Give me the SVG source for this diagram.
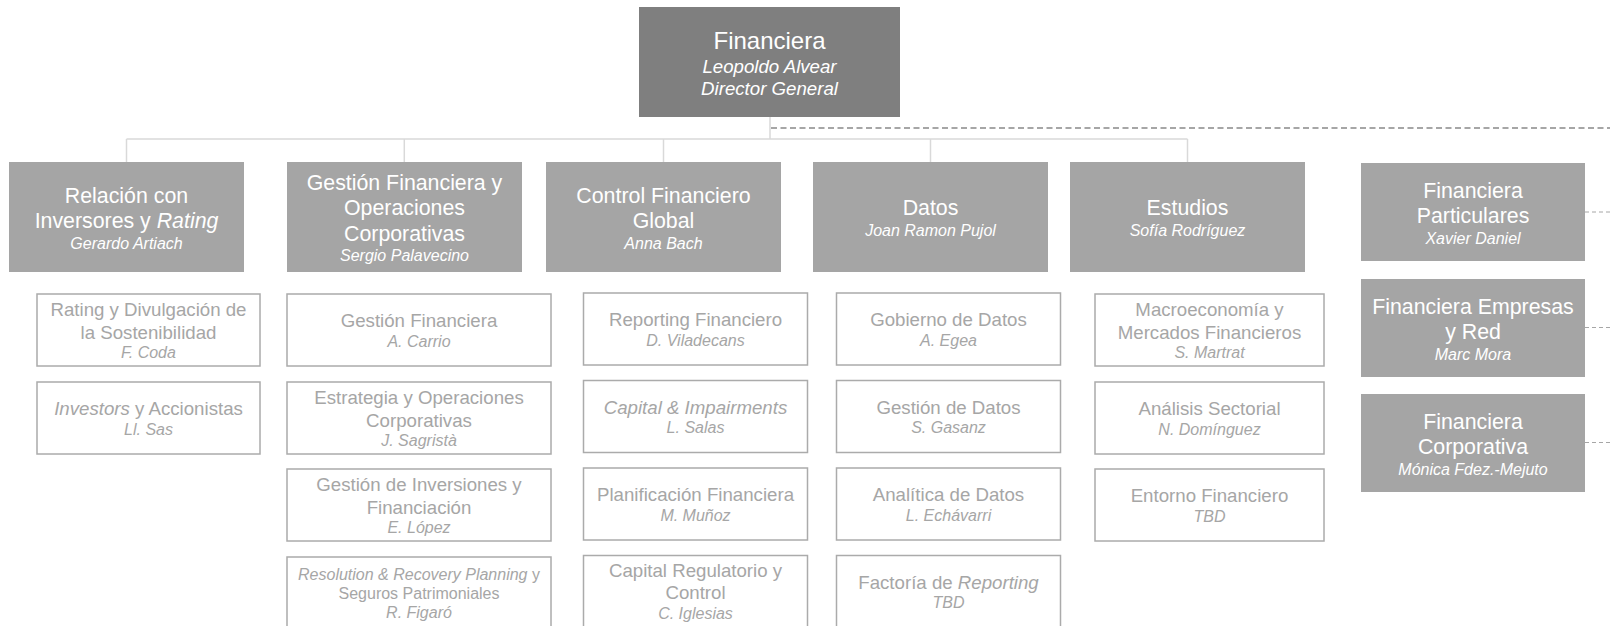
<svg xmlns="http://www.w3.org/2000/svg" width="1610" height="626" viewBox="0 0 1610 626">
<style>
text{font-family:"Liberation Sans",Arial,sans-serif;text-anchor:middle}
.top{fill:#7f7f7f}
.l2{fill:#a5a5a5}
.sub{fill:#ffffff;stroke:#ababab;stroke-width:1.5}
.w{fill:#ffffff}
.g{fill:#a6a6a6}
.t24{font-size:24px}
.t21{font-size:21.33px}
.t18{font-size:18.67px}
.t16{font-size:16px}
.i{font-style:italic}
.conn{stroke:#d9d9d9;stroke-width:1.5;fill:none}
.dash{stroke:#a6a6a6;stroke-width:2;stroke-dasharray:6 3.5;fill:none}
.dash2{stroke:#a6a6a6;stroke-width:1;stroke-dasharray:4 3;fill:none}
</style>
<rect width="1610" height="626" fill="#ffffff"/>
<g id="connectors">
<path class="conn" d="M770 117V139M126.5 139H1187.5M126.5 139V162M404.3 139V162M663.5 139V162M930.5 139V162M1187.5 139V162"/>
<path class="dash" d="M771 128H1610"/>
<path class="dash2" d="M1585 212H1610M1585 327.5H1610M1585 442.5H1610"/>
</g>
<g id="n-financiera">
<rect class="top" x="639" y="7" width="261" height="110"/>
<text class="w t24" x="769.5" y="49">Financiera</text>
<text class="w t18 i" x="769.5" y="72.5">Leopoldo Alvear</text>
<text class="w t18 i" x="769.5" y="95">Director General</text>
</g>
<g id="n-relacion">
<rect class="l2" x="9" y="162" width="235" height="110"/>
<text class="w t21" x="126.5" y="202.5">Relación con</text>
<text class="w t21" x="126.5" y="228">Inversores y <tspan class="i">Rating</tspan></text>
<text class="w t16 i" x="126.5" y="248.5">Gerardo Artiach</text>
</g>
<g id="n-gestion">
<rect class="l2" x="287" y="162" width="235" height="110"/>
<text class="w t21" x="404.5" y="189.5">Gestión Financiera y</text>
<text class="w t21" x="404.5" y="215">Operaciones</text>
<text class="w t21" x="404.5" y="240.5">Corporativas</text>
<text class="w t16 i" x="404.5" y="261">Sergio Palavecino</text>
</g>
<g id="n-control">
<rect class="l2" x="546" y="162" width="235" height="110"/>
<text class="w t21" x="663.5" y="202.5">Control Financiero</text>
<text class="w t21" x="663.5" y="228">Global</text>
<text class="w t16 i" x="663.5" y="248.5">Anna Bach</text>
</g>
<g id="n-datos">
<rect class="l2" x="813" y="162" width="235" height="110"/>
<text class="w t21" x="930.5" y="215">Datos</text>
<text class="w t16 i" x="930.5" y="235.5">Joan Ramon Pujol</text>
</g>
<g id="n-estudios">
<rect class="l2" x="1070" y="162" width="235" height="110"/>
<text class="w t21" x="1187.5" y="215">Estudios</text>
<text class="w t16 i" x="1187.5" y="235.5">Sofía Rodríguez</text>
</g>
<g id="n-particulares">
<rect class="l2" x="1361" y="163" width="224" height="98"/>
<text class="w t21" x="1473" y="197.5">Financiera</text>
<text class="w t21" x="1473" y="223">Particulares</text>
<text class="w t16 i" x="1473" y="243.5">Xavier Daniel</text>
</g>
<g id="n-empresas">
<rect class="l2" x="1361" y="279" width="224" height="98"/>
<text class="w t21" x="1473" y="313.5">Financiera Empresas</text>
<text class="w t21" x="1473" y="339">y Red</text>
<text class="w t16 i" x="1473" y="359.5">Marc Mora</text>
</g>
<g id="n-corporativa">
<rect class="l2" x="1361" y="394" width="224" height="98"/>
<text class="w t21" x="1473" y="428.5">Financiera</text>
<text class="w t21" x="1473" y="454">Corporativa</text>
<text class="w t16 i" x="1473" y="474.5">Mónica Fdez.-Mejuto</text>
</g>
<!-- Column 1 -->
<g id="n-rating">
<rect class="sub" x="37" y="294" width="223" height="72"/>
<text class="g t18" x="148.5" y="316">Rating y Divulgación de</text>
<text class="g t18" x="148.5" y="338.5">la Sostenibilidad</text>
<text class="g t16 i" x="148.5" y="358">F. Coda</text>
</g>
<g id="n-investors">
<rect class="sub" x="37" y="382" width="223" height="72"/>
<text class="g t18" x="148.5" y="415"><tspan class="i">Investors</tspan> y Accionistas</text>
<text class="g t16 i" x="148.5" y="434.5">Ll. Sas</text>
</g>
<!-- Column 2 -->
<g id="n-gestfin">
<rect class="sub" x="287" y="294" width="264" height="72"/>
<text class="g t18" x="419" y="327">Gestión Financiera</text>
<text class="g t16 i" x="419" y="346.5">A. Carrio</text>
</g>
<g id="n-estrategia">
<rect class="sub" x="287" y="382" width="264" height="72"/>
<text class="g t18" x="419" y="404">Estrategia y Operaciones</text>
<text class="g t18" x="419" y="426.5">Corporativas</text>
<text class="g t16 i" x="419" y="446">J. Sagristà</text>
</g>
<g id="n-inversiones">
<rect class="sub" x="287" y="469" width="264" height="72"/>
<text class="g t18" x="419" y="491">Gestión de Inversiones y</text>
<text class="g t18" x="419" y="513.5">Financiación</text>
<text class="g t16 i" x="419" y="533">E. López</text>
</g>
<g id="n-resolution">
<rect class="sub" x="287" y="557" width="264" height="72"/>
<text class="g t16" x="419" y="579.5"><tspan class="i">Resolution &amp; Recovery Planning</tspan> y</text>
<text class="g t16" x="419" y="598.5">Seguros Patrimoniales</text>
<text class="g t16 i" x="419" y="617.5">R. Figaró</text>
</g>
<!-- Column 3 -->
<g id="n-reporting">
<rect class="sub" x="583.5" y="293" width="224" height="72"/>
<text class="g t18" x="695.5" y="326">Reporting Financiero</text>
<text class="g t16 i" x="695.5" y="345.5">D. Viladecans</text>
</g>
<g id="n-capital">
<rect class="sub" x="583.5" y="380.5" width="224" height="72"/>
<text class="g t18 i" x="695.5" y="413.5">Capital &amp; Impairments</text>
<text class="g t16 i" x="695.5" y="433">L. Salas</text>
</g>
<g id="n-planificacion">
<rect class="sub" x="583.5" y="468" width="224" height="72"/>
<text class="g t18" x="695.5" y="501">Planificación Financiera</text>
<text class="g t16 i" x="695.5" y="520.5">M. Muñoz</text>
</g>
<g id="n-capreg">
<rect class="sub" x="583.5" y="555.5" width="224" height="72"/>
<text class="g t18" x="695.5" y="576.5">Capital Regulatorio y</text>
<text class="g t18" x="695.5" y="599">Control</text>
<text class="g t16 i" x="695.5" y="618.5">C. Iglesias</text>
</g>
<!-- Column 4 -->
<g id="n-gobierno">
<rect class="sub" x="836.5" y="293" width="224" height="72"/>
<text class="g t18" x="948.5" y="326">Gobierno de Datos</text>
<text class="g t16 i" x="948.5" y="345.5">A. Egea</text>
</g>
<g id="n-gestdatos">
<rect class="sub" x="836.5" y="380.5" width="224" height="72"/>
<text class="g t18" x="948.5" y="413.5">Gestión de Datos</text>
<text class="g t16 i" x="948.5" y="433">S. Gasanz</text>
</g>
<g id="n-analitica">
<rect class="sub" x="836.5" y="468" width="224" height="72"/>
<text class="g t18" x="948.5" y="501">Analítica de Datos</text>
<text class="g t16 i" x="948.5" y="520.5">L. Echávarri</text>
</g>
<g id="n-factoria">
<rect class="sub" x="836.5" y="555.5" width="224" height="72"/>
<text class="g t18" x="948.5" y="588.5">Factoría de <tspan class="i">Reporting</tspan></text>
<text class="g t16 i" x="948.5" y="608">TBD</text>
</g>
<!-- Column 5 -->
<g id="n-macro">
<rect class="sub" x="1095" y="294" width="229" height="72"/>
<text class="g t18" x="1209.5" y="316">Macroeconomía y</text>
<text class="g t18" x="1209.5" y="338.5">Mercados Financieros</text>
<text class="g t16 i" x="1209.5" y="358">S. Martrat</text>
</g>
<g id="n-sectorial">
<rect class="sub" x="1095" y="382" width="229" height="72"/>
<text class="g t18" x="1209.5" y="415">Análisis Sectorial</text>
<text class="g t16 i" x="1209.5" y="434.5">N. Domínguez</text>
</g>
<g id="n-entorno">
<rect class="sub" x="1095" y="469" width="229" height="72"/>
<text class="g t18" x="1209.5" y="502">Entorno Financiero</text>
<text class="g t16 i" x="1209.5" y="521.5">TBD</text>
</g>
</svg>
